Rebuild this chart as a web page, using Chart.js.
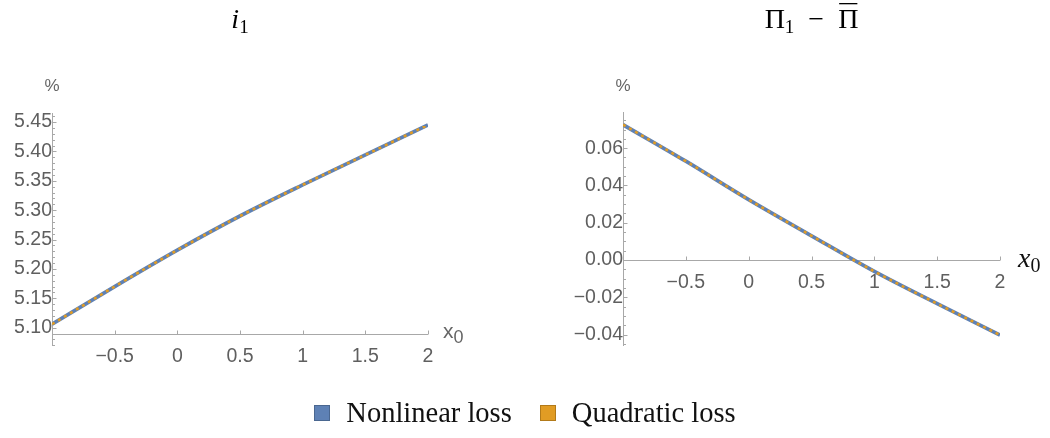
<!DOCTYPE html>
<html>
<head>
<meta charset="utf-8">
<script src="https://cdn.jsdelivr.net/npm/chart.js@4.4.1/dist/chart.umd.min.js"></script>
<style>
  html, body { margin: 0; padding: 0; background: #fff; }
  #wrap { position: relative; width: 1050px; height: 438px; overflow: hidden; }
  .panel { position: absolute; top: 0; width: 525px; height: 438px; }
  #legend { position: absolute; left: 0; top: 397px; width: 1050px; display: flex; justify-content: center; align-items: center;
            font-family: "Liberation Serif", serif; font-size: 28.5px; color: #111; }
  .item { display: flex; align-items: center; margin: 0 14px; }
  .swatch { width: 14px; height: 14px; margin-right: 16px; border: 1px solid; }
</style>
</head>
<body>
<div id="wrap">
  <div class="panel" style="left:0"><canvas id="graficoTaxa"></canvas></div>
  <div class="panel" style="left:525px"><canvas id="graficoInflacao"></canvas></div>
  <div id="legend"></div>
</div>
<script>
// valores
var xValues = [-1, -0.5, 0, 0.5, 1, 1.5, 2];
var taxaNonlinear = [5.106, 5.170, 5.232, 5.290, 5.343, 5.394, 5.445];
var taxaQuadratic = [5.106, 5.170, 5.232, 5.290, 5.343, 5.394, 5.445];
var inflNonlinear = [0.0726, 0.0530, 0.0324, 0.0130, -0.0061, -0.0234, -0.0402];
var inflQuadratic = [0.0726, 0.0530, 0.0324, 0.0130, -0.0061, -0.0234, -0.0402];
var xTicks = [-0.5, 0, 0.5, 1, 1.5, 2];
var taxaTicks = [5.10, 5.15, 5.20, 5.25, 5.30, 5.35, 5.40, 5.45];
var inflTicks = [-0.04, -0.02, 0.00, 0.02, 0.04, 0.06];
var seriesNames = ['Nonlinear loss', 'Quadratic loss'];
var seriesColors = ['#5E81B5', '#E19C24'];
var seriesBorders = ['#4A6790', '#B27A1A'];

function minus(s) { return s.replace('-', '\u2212'); }

function pontos(ys) {
	return xValues.map(function(x, i) { return { x: x, y: ys[i] }; });
}

function drawRuns(ctx, runs, x, y, align) {
	var total = 0;
	runs.forEach(function(r) { ctx.font = r.font; r.w = ctx.measureText(r.text).width; total += r.w; });
	var cx = align === 'center' ? x - total / 2 : x;
	runs.forEach(function(r) {
		ctx.font = r.font;
		ctx.fillStyle = r.color || '#000';
		ctx.textAlign = 'left';
		ctx.textBaseline = 'alphabetic';
		ctx.fillText(r.text, cx, y + (r.dy || 0));
		if (r.bar) {
			ctx.fillRect(cx + 1, y - r.bar, r.w - 2, 1.3);
		}
		cx += r.w;
	});
}

// eixos no estilo do Mathematica
var eixosPlugin = {
	id: 'eixos',
	beforeDatasetsDraw: function(chart, args, o) {
		var ctx = chart.ctx, xs = chart.scales.x, ys = chart.scales.y, a = chart.chartArea;
		var x0 = Math.round(xs.getPixelForValue(xs.min)) + 0.5;
		var y0 = Math.round(ys.getPixelForValue(o.xAxisAt)) + 0.5;
		ctx.save();
		ctx.strokeStyle = '#a8a8a8';
		ctx.lineWidth = 1;
		ctx.beginPath();
		ctx.moveTo(x0, a.top); ctx.lineTo(x0, a.bottom);
		ctx.moveTo(a.left, y0); ctx.lineTo(a.right, y0);
		xTicks.forEach(function(v) {
			var px = Math.round(xs.getPixelForValue(v)) + 0.5;
			ctx.moveTo(px, y0); ctx.lineTo(px, y0 - 4);
		});
		var kMin = Math.ceil(ys.min / o.minor - 1e-6), kMax = Math.floor(ys.max / o.minor + 1e-6);
		for (var k = kMin; k <= kMax; k++) {
			var v = k * o.minor;
			var r = v / o.major;
			var major = Math.abs(r - Math.round(r)) < 1e-6;
			var py = Math.round(ys.getPixelForValue(v)) + 0.5;
			ctx.moveTo(x0, py); ctx.lineTo(x0 + (major ? 4 : 2.5), py);
		}
		ctx.stroke();
		ctx.restore();
	},
	afterDraw: function(chart, args, o) {
		var ctx = chart.ctx, xs = chart.scales.x, ys = chart.scales.y, a = chart.chartArea;
		ctx.save();
		ctx.font = '17px "Liberation Sans"';
		ctx.fillStyle = '#666';
		ctx.textAlign = 'center';
		ctx.textBaseline = 'middle';
		ctx.fillText('%', xs.getPixelForValue(xs.min), 86);
		var y0 = ys.getPixelForValue(o.xAxisAt);
		drawRuns(ctx, o.xLabel, a.right + o.xLabelDx, y0 + o.xLabelDy, 'left');
		drawRuns(ctx, o.title, (a.left + a.right) / 2, 28, 'center');
		ctx.restore();
	}
};

function criarGrafico(id, serieA, serieB, ticksY, limites, opcoes, padding) {
	var ctx = document.getElementById(id).getContext('2d');
	return new Chart(ctx, {
		type: 'line',
		data: {
			datasets: [{
				label: seriesNames[0],
				data: pontos(serieA),
				borderColor: seriesColors[0],
				borderWidth: 3.8,
				pointRadius: 0,
				cubicInterpolationMode: 'monotone',
				order: 1
			}, {
				label: seriesNames[1],
				data: pontos(serieB),
				borderColor: seriesColors[1],
				borderWidth: 2.6,
				borderDash: [3, 4],
				pointRadius: 0,
				cubicInterpolationMode: 'monotone',
				order: 0
			}]
		},
		options: {
			responsive: false,
			animation: false,
			layout: { padding: padding },
			plugins: {
				legend: { display: false },
				tooltip: { enabled: false },
				eixos: opcoes
			},
			scales: {
				x: {
					type: 'linear',
					min: -1, max: 2,
					position: { y: opcoes.xAxisAt },
					grid: { display: false },
					border: { display: false },
					afterBuildTicks: function(axis) { axis.ticks = xTicks.map(function(v) { return { value: v }; }); },
					ticks: {
						padding: 3,
						maxRotation: 0,
						autoSkip: false,
						color: '#5f5f5f',
						font: { family: 'Liberation Sans', size: 19.5 },
						callback: function(v) { return minus(String(v)); }
					}
				},
				y: {
					type: 'linear',
					min: limites[0], max: limites[1],
					position: { x: -1 },
					grid: { display: false },
					border: { display: false },
					afterBuildTicks: function(axis) { axis.ticks = ticksY.map(function(v) { return { value: v }; }); },
					ticks: {
						padding: 7,
						autoSkip: false,
						color: '#5f5f5f',
						font: { family: 'Liberation Sans', size: 19.5 },
						callback: function(v) { return minus(v.toFixed(2)); }
					}
				}
			}
		},
		plugins: [eixosPlugin]
	});
}

document.getElementById('graficoTaxa').width = 525;
document.getElementById('graficoTaxa').height = 438;
document.getElementById('graficoInflacao').width = 525;
document.getElementById('graficoInflacao').height = 438;

var serif = '"Liberation Serif"';

criarGrafico('graficoTaxa', taxaNonlinear, taxaQuadratic, taxaTicks, [5.0689, 5.4653], {
	xAxisAt: 5.0893, minor: 0.01, major: 0.05,
	xLabel: [
		{ text: 'x', font: '21px "Liberation Sans"', color: '#666', dy: 4 },
		{ text: '0', font: '18px "Liberation Sans"', color: '#666', dy: 9 }
	],
	xLabelDx: 15, xLabelDy: 0,
	title: [
		{ text: 'i', font: 'italic 28px ' + serif },
		{ text: '1', font: '19px ' + serif, dy: 5 }
	]
}, { left: 52, right: 97, top: 113, bottom: 92 });

criarGrafico('graficoInflacao', inflNonlinear, inflQuadratic, inflTicks, [-0.0461, 0.0794], {
	xAxisAt: 0, minor: 0.005, major: 0.02,
	xLabel: [
		{ text: 'x', font: 'italic 28px ' + serif, color: '#111', dy: 7 },
		{ text: '0', font: '20px ' + serif, color: '#111', dy: 12 }
	],
	xLabelDx: 18, xLabelDy: 0,
	title: [
		{ text: '\u03A0', font: '28px ' + serif },
		{ text: '1', font: '19px ' + serif, dy: 5 },
		{ text: '  \u2212  ', font: '28px ' + serif },
		{ text: '\u03A0', font: '28px ' + serif, bar: 25 }
	]
}, { left: 98, right: 50, top: 112, bottom: 92 });

// legenda
var legenda = document.getElementById('legend');
seriesNames.forEach(function(nome, i) {
	var item = document.createElement('div');
	item.className = 'item';
	var sw = document.createElement('span');
	sw.className = 'swatch';
	sw.style.background = seriesColors[i];
	sw.style.borderColor = seriesBorders[i];
	var txt = document.createElement('span');
	txt.textContent = nome;
	item.appendChild(sw);
	item.appendChild(txt);
	legenda.appendChild(item);
});
</script>
</body>
</html>
